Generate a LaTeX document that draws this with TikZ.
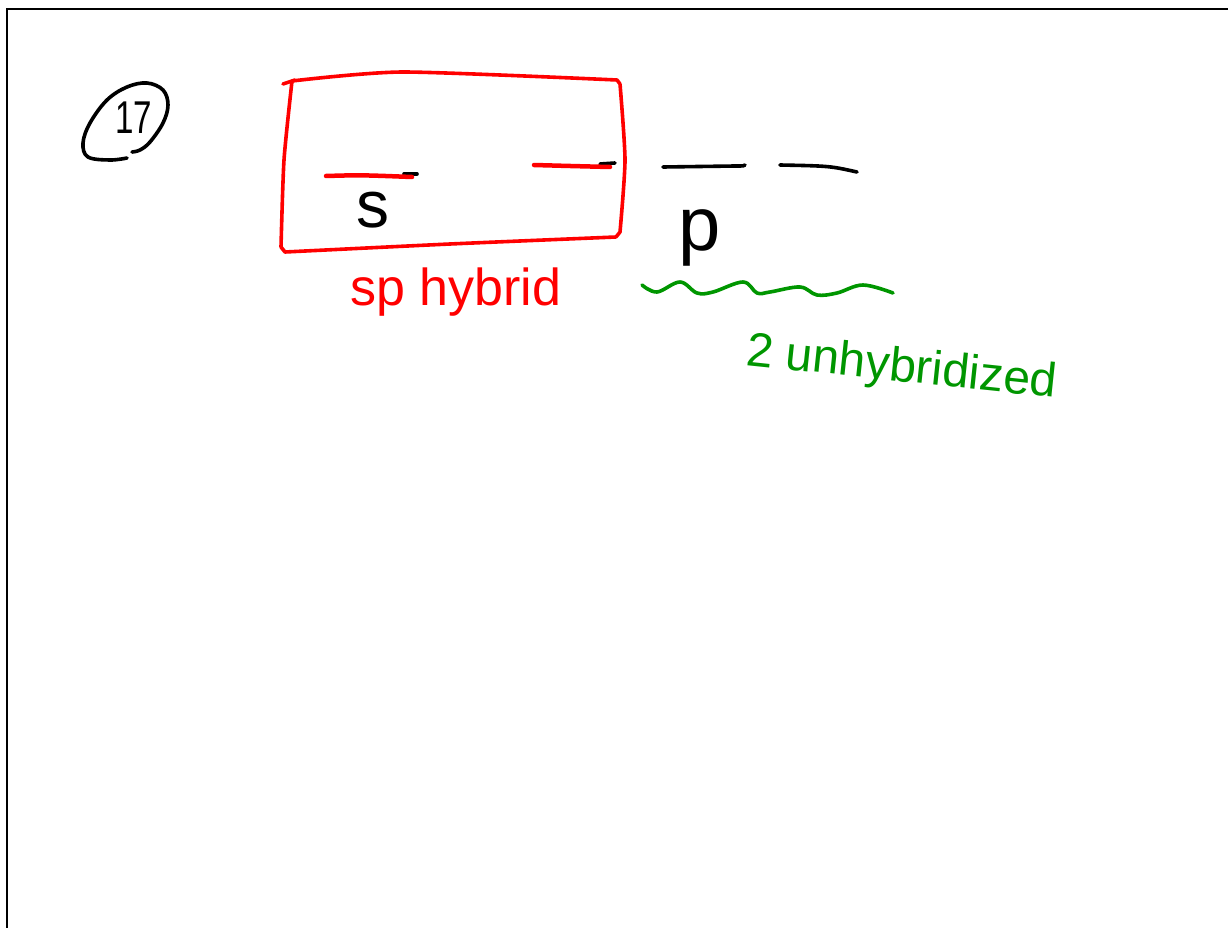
\documentclass[tikz,border=0pt]{standalone}
\usepackage{fontspec}
\setmainfont{Liberation Sans}
\definecolor{inkred}{RGB}{255,0,0}
\definecolor{inkgreen}{RGB}{0,150,0}
\tikzset{
  ink/.style={line width=3.6pt, line cap=round, line join=round},
  blackink/.style={ink, black},
  redink/.style={ink, inkred},
  greenink/.style={ink, inkgreen},
  frameline/.style={line width=2.5pt, black},
  lbl/.style={inner sep=0pt, outer sep=0pt, anchor=base}
}
\begin{document}
\begin{tikzpicture}[x=1pt,y=-1pt]
\useasboundingbox (0,0) rectangle (1228,928);
% frame
\coordinate (ftr) at (1230,9);
\coordinate (ftl) at (7,9);
\coordinate (fbl) at (7,930);
\draw[frameline] (ftr) -- (ftl) -- (fbl);
% circled number
\node[lbl, font=\fontsize{46}{46}\selectfont, xscale=0.72] (num) at (134,134) {17};
\draw[blackink] plot[smooth, tension=0.6] coordinates {(127,158) (110,160) (88,157) (83,143) (90,123) (107,100) (127,87) (147,83) (163,90) (168,105) (163,123) (150,142) (140,150) (132,152)};
% red box
\draw[redink] plot[smooth, tension=0.4] coordinates {(292,81) (403,72) (617,80)} -- (620,84)
  plot[smooth, tension=0.4] coordinates {(620,84) (625,160) (620,232)} -- (616,237)
  plot[smooth, tension=0.4] coordinates {(616,237) (450,244) (285,252)} -- (281,247)
  plot[smooth, tension=0.4] coordinates {(281,247) (284,160) (292,81)};
\draw[redink] (283,84) -- (295,80);
% s orbital
\coordinate (s1) at (326,176);
\coordinate (s2) at (417,174);
\draw[blackink] (404,174) -- (s2);
\draw[redink, line width=4.5pt] (s1) .. controls (360,175) .. (412,177);
\node[lbl, font=\fontsize{66}{66}\selectfont] (slabel) at (373,227) {s};
% second hybrid orbital
\coordinate (h1) at (534,165);
\coordinate (h2) at (615,163);
\draw[blackink] (600,164) -- (h2);
\draw[redink, line width=4.5pt] (h1) .. controls (570,166) .. (610,167);
% p orbitals
\coordinate (p1a) at (663,167);
\coordinate (p1b) at (745,165);
\coordinate (p2a) at (780,165);
\coordinate (p2b) at (857,172);
\draw[blackink] (p1a) -- (735,166) .. controls (744,166) .. (p1b);
\draw[blackink] (p2a) .. controls (830,166) .. (p2b);
\node[lbl, font=\fontsize{76}{76}\selectfont] (plabel) at (700,250) {p};
% sp hybrid label
\node[lbl, anchor=base west, font=\fontsize{52}{52}\selectfont, text=inkred] (sphyb) at (350,305) {sp hybrid};
% green wavy underline
\draw[greenink] plot[smooth, tension=0.6] coordinates {(642,285) (657,292) (680,282) (697,293) (713,292) (743,282) (757,293) (770,292) (800,287) (817,295) (837,293) (863,285) (893,293)};
% 2 unhybridized label
\node[lbl, anchor=base west, font=\fontsize{48}{48}\selectfont, text=inkgreen, rotate=-6] (unhyb) at (745,365) {2 unhybridized};
\end{tikzpicture}
\end{document}
